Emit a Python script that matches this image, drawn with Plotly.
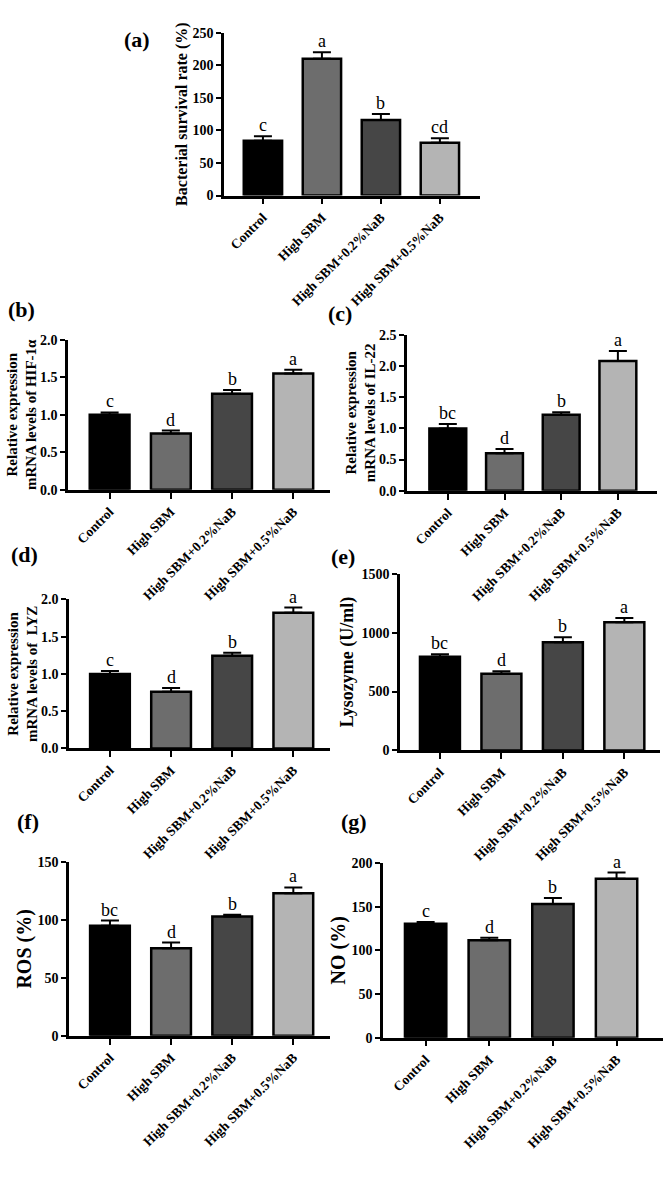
import plotly.graph_objects as go

categories = ["Control", "High SBM", "High SBM+0.2%NaB", "High SBM+0.5%NaB"]
bar_colors = ["#000000", "#6d6d6d", "#464646", "#b4b4b4"]

a_vals = [84, 210, 116, 81]
a_err = [7, 10, 9, 7]
a_letters = ["c", "a", "b", "cd"]

b_vals = [1.00, 0.75, 1.28, 1.55]
b_err = [0.03, 0.04, 0.05, 0.05]
b_letters = ["c", "d", "b", "a"]

c_vals = [1.00, 0.60, 1.22, 2.08]
c_err = [0.07, 0.07, 0.04, 0.16]
c_letters = ["bc", "d", "b", "a"]

d_vals = [1.00, 0.76, 1.245, 1.82]
d_err = [0.04, 0.05, 0.04, 0.07]
d_letters = ["c", "d", "b", "a"]

e_vals = [796, 650, 918, 1088]
e_err = [20, 22, 42, 36]
e_letters = ["bc", "d", "b", "a"]

f_vals = [95, 75.5, 103, 123]
f_err = [4.5, 5, 1.5, 5]
f_letters = ["bc", "d", "b", "a"]

g_vals = [130.5, 111.5, 153, 182]
g_err = [2, 3, 7, 7]
g_letters = ["c", "d", "b", "a"]

W, H = 664, 1181
FONT = "Liberation Serif"

panels = [
    dict(label="(a)", vals=a_vals, err=a_err, letters=a_letters, ymax=250, dtick=50,
         title="Bacterial survival rate (%)", tsize=16, so=1,
         px=(224, 480), py=(26, 191), xr=(-0.66, 3.68), lab=(137, 33)),
    dict(label="(b)", vals=b_vals, err=b_err, letters=b_letters, ymax=2.0, dtick=0.5,
         title="Relative expression<br>mRNA levels of HIF-1α", tsize=15, so=0,
         px=(68, 330), py=(337, 489), xr=(-0.68, 3.6), lab=(21, 306)),
    dict(label="(c)", vals=c_vals, err=c_err, letters=c_letters, ymax=2.5, dtick=0.5,
         title="Relative expression<br>mRNA levels of IL-22", tsize=15, so=0,
         px=(407, 657), py=(332, 490), xr=(-0.72, 3.69), lab=(340, 310)),
    dict(label="(d)", vals=d_vals, err=d_err, letters=d_letters, ymax=2.0, dtick=0.5,
         title="Relative expression<br>mRNA levels of  LYZ", tsize=15, so=0,
         px=(69, 330), py=(600, 751), xr=(-0.67, 3.6), lab=(24, 555)),
    dict(label="(e)", vals=e_vals, err=e_err, letters=e_letters, ymax=1500, dtick=500,
         title="Lysozyme (U/ml)", tsize=18, so=4,
         px=(400, 660), py=(574, 753), xr=(-0.65, 3.58), lab=(343, 557)),
    dict(label="(f)", vals=f_vals, err=f_err, letters=f_letters, ymax=150, dtick=50,
         title="ROS (%)", tsize=20, so=1,
         px=(69, 330), py=(866, 1042), xr=(-0.67, 3.6), lab=(28, 825)),
    dict(label="(g)", vals=g_vals, err=g_err, letters=g_letters, ymax=200, dtick=50,
         title="NO (%)", tsize=20, so=1,
         px=(383, 663), py=(867, 1044), xr=(-0.67, 3.73), lab=(354, 825)),
]

fig = go.Figure()
layout = {}
annotations = []

for i, p in enumerate(panels):
    n = "" if i == 0 else str(i + 1)
    xa, ya = "x" + n, "y" + n
    fig.add_trace(go.Bar(
        x=categories, y=p["vals"], xaxis=xa, yaxis=ya,
        marker=dict(color=bar_colors, line=dict(color="#000000", width=2.5)),
        width=0.65,
        error_y=dict(type="data", symmetric=False, array=p["err"],
                     arrayminus=[0] * 4, color="#000000", thickness=2, width=9),
        showlegend=False, hoverinfo="skip",
    ))
    x0, x1 = p["px"]
    yt, yb = p["py"]
    layout["xaxis" + n] = dict(
        domain=[x0 / W, x1 / W], anchor=ya, type="category",
        range=list(p["xr"]), showline=True, linecolor="#000000", linewidth=2.5,
        ticks="outside", ticklen=6, tickwidth=2, tickcolor="#000000",
        tickangle=-45, showgrid=False, zeroline=False,
        tickfont=dict(family=FONT, size=13.5, color="#000000", weight="bold"),
    )
    layout["yaxis" + n] = dict(
        domain=[1 - yb / H, 1 - yt / H], anchor=xa,
        range=[0, p["ymax"]], dtick=p["dtick"], showline=True, linecolor="#000000",
        linewidth=2.5, ticks="outside", ticklen=5, tickwidth=2, tickcolor="#000000",
        showgrid=False, zeroline=False,
        tickformat=".1f" if p["dtick"] < 1 else "d",
        tickfont=dict(family=FONT, size=14, color="#000000", weight="bold"),
        title=dict(text=p["title"], standoff=p["so"],
                   font=dict(family=FONT, size=p["tsize"], color="#000000", weight="bold")),
    )
    for c, v, e, L in zip(categories, p["vals"], p["err"], p["letters"]):
        annotations.append(dict(
            x=c, y=v + e, xref=xa, yref=ya, text=L, showarrow=False,
            yanchor="bottom", yshift=-1,
            font=dict(family=FONT, size=18, color="#000000"),
        ))
    lx, ly = p["lab"]
    annotations.append(dict(
        x=lx / W, y=1 - ly / H, xref="paper", yref="paper", text=p["label"],
        showarrow=False, xanchor="center", yanchor="middle",
        font=dict(family=FONT, size=22, color="#000000", weight="bold"),
    ))

fig.update_layout(
    **layout,
    annotations=annotations,
    width=W, height=H,
    margin=dict(l=0, r=0, t=0, b=0),
    paper_bgcolor="#ffffff", plot_bgcolor="#ffffff",
)

fig.write_html("out.html", config={"displayModeBar": False},
               post_script="document.body.style.margin='0';")
